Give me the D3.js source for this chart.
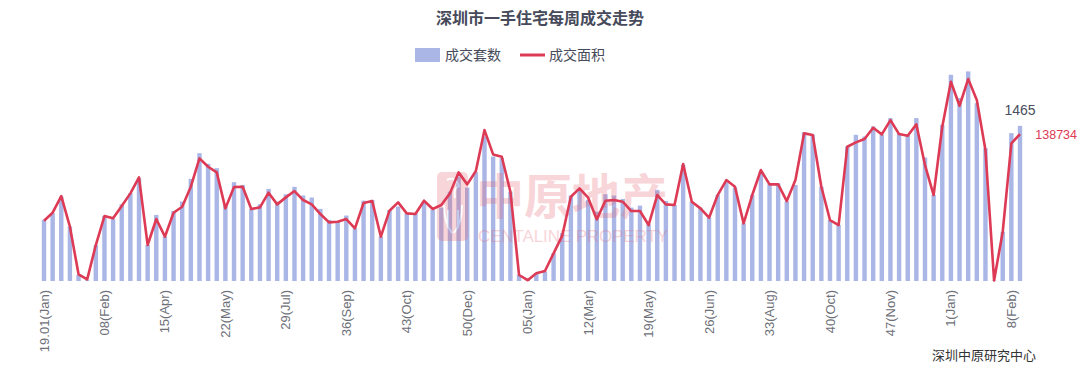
<!DOCTYPE html>
<meta charset="utf-8">
<style>
body { margin: 0; background: #fff; }
svg { display: block; }
.cn { font-family: "Noto Sans CJK SC", "Noto Sans", sans-serif; }
.num { font-family: "Liberation Sans", Arial, sans-serif; }
</style>
<svg width="1080" height="366"></svg>
<script src="https://d3js.org/d3.v7.min.js"></script>
<script>

// weekly categories 2019 W1 .. 2021 W9
var weeks = [
  "19W01","19W02","19W03","19W04","19W05","19W06","19W07","19W08","19W09","19W10",
  "19W11","19W12","19W13","19W14","19W15","19W16","19W17","19W18","19W19","19W20",
  "19W21","19W22","19W23","19W24","19W25","19W26","19W27","19W28","19W29","19W30",
  "19W31","19W32","19W33","19W34","19W35","19W36","19W37","19W38","19W39","19W40",
  "19W41","19W42","19W43","19W44","19W45","19W46","19W47","19W48","19W49","19W50",
  "19W51","19W52",
  "20W01","20W02","20W03","20W04","20W05","20W06","20W07","20W08","20W09","20W10",
  "20W11","20W12","20W13","20W14","20W15","20W16","20W17","20W18","20W19","20W20",
  "20W21","20W22","20W23","20W24","20W25","20W26","20W27","20W28","20W29","20W30",
  "20W31","20W32","20W33","20W34","20W35","20W36","20W37","20W38","20W39","20W40",
  "20W41","20W42","20W43","20W44","20W45","20W46","20W47","20W48","20W49","20W50",
  "20W51","20W52","20W53",
  "21W01","21W02","21W03","21W04","21W05","21W06","21W07","21W08","21W09"
];

// ticks shown on the axis
var tickWeeks  = ["19W01","19W08","19W15","19W22","19W29","19W36","19W43","19W50",
                  "20W05","20W12","20W19","20W26","20W33","20W40","20W47","21W01","21W08"];
var tickLabels = ["19.01(Jan)","08(Feb)","15(Apr)","22(May)","29(Jul)","36(Sep)","43(Oct)","50(Dec)",
                  "05(Jan)","12(Mar)","19(May)","26(Jun)","33(Aug)","40(Oct)","47(Nov)","1(Jan)","8(Feb)"];

// 成交套数 (units)
var units = [
  577,640,797,514,57,8,340,614,586,725,
  829,970,340,624,419,662,750,964,1207,1106,
  1065,718,933,907,681,725,870,750,819,889,
  807,788,681,577,561,618,498,759,766,419,
  671,703,640,640,750,671,693,844,986,882,
  1027,1364,1175,1160,844,57,9,72,88,262,
  451,807,870,766,655,819,807,775,693,712,
  536,860,756,718,1097,750,693,599,813,933,
  882,545,813,1034,914,923,750,907,1405,1380,
  892,577,529,1270,1380,1364,1459,1380,1538,1396,
  1380,1538,1166,813,1475,1947,1727,1979,1679,1254,
  5,466,1396,1465
];

// 成交面积 (m2)
var area = [
  56943,64493,80223,51280,6292,1500,33977,61347,59145,70785,
  82740,97841,33977,58516,41842,64493,70156,89032,115773,107908,
  102560,68583,88717,89032,67954,69527,83369,72358,78965,84942,
  76448,72358,63235,55370,55999,58516,49707,73616,75504,41842,
  66381,74246,63864,63235,75819,67954,71729,82740,102560,91234,
  103818,142514,119548,117346,84313,5663,800,7236,9438,26112,
  42786,79594,87459,78650,58201,75819,76448,74875,66066,66066,
  52853,81167,72358,71729,110425,74875,68583,59774,81167,95324,
  89032,54426,81167,104762,91234,91234,75504,95324,139368,137795,
  89032,57572,52853,126784,130874,134020,144716,138424,151952,138739,
  137166,147862,109481,81167,145660,188131,165480,190648,170828,123638,
  500,46561,129930,138734
];

var svg = d3.select("svg");
var barColor = "#a9b6e6",
    lineColor = "#dd3a55";

var x = d3.scalePoint().domain(weeks).range([44, 1020]);
var yBar = d3.scaleLinear().domain([0, 2200]).range([281, 48]);
var yLine = d3.scaleLinear().domain([0, 220000]).range([281, 48]);

// title
svg.append("text")
    .attr("class", "cn")
    .attr("x", 540).attr("y", 24)
    .attr("text-anchor", "middle")
    .attr("font-size", 16).attr("font-weight", "bold")
    .attr("fill", "#464a5a")
    .text("深圳市一手住宅每周成交走势");

// legend
var legend = svg.append("g").attr("class", "cn");
legend.append("rect")
    .attr("x", 415).attr("y", 48).attr("width", 25).attr("height", 14)
    .attr("fill", barColor);
legend.append("text")
    .attr("x", 445).attr("y", 60)
    .attr("font-size", 14).attr("fill", "#464a5a")
    .text("成交套数");
legend.append("line")
    .attr("x1", 520).attr("x2", 545).attr("y1", 55).attr("y2", 55)
    .attr("stroke", lineColor).attr("stroke-width", 3);
legend.append("text")
    .attr("x", 549).attr("y", 60)
    .attr("font-size", 14).attr("fill", "#464a5a")
    .text("成交面积");

// bars
svg.append("g")
  .selectAll("rect")
  .data(units)
  .enter().append("rect")
    .attr("x", function(d, i) { return x(weeks[i]) - 2.2; })
    .attr("width", 4.4)
    .attr("y", function(d) { return yBar(d); })
    .attr("height", function(d) { return yBar(0) - yBar(d); })
    .attr("fill", barColor);

// watermark
var wm = svg.append("g").attr("opacity", 0.26);
wm.append("rect")
    .attr("x", 437).attr("y", 172).attr("width", 31).attr("height", 69).attr("rx", 5)
    .attr("fill", "#e8606f");
wm.append("path")
    .attr("d", "M447,180 q8,-4 12,6 q-6,2 -4,12 M444,205 q0,18 8,28 M462,205 q0,18 -8,28 M448,210 l0,18 M458,210 l0,18")
    .attr("fill", "none").attr("stroke", "#fff").attr("stroke-width", 2);
wm.append("text")
    .attr("class", "cn")
    .attr("x", 476).attr("y", 214)
    .attr("font-size", 48).attr("font-weight", "bold")
    .attr("fill", "#e8606f")
    .text("中原地产");
wm.append("text")
    .attr("class", "num")
    .attr("x", 478).attr("y", 242)
    .attr("font-size", 17)
    .attr("textLength", 190)
    .attr("fill", "#e8606f")
    .text("CENTALINE PROPERTY");

// line
var line = d3.line()
    .x(function(d, i) { return x(weeks[i]); })
    .y(function(d) { return yLine(d); });

svg.append("path")
    .datum(area)
    .attr("fill", "none")
    .attr("stroke", lineColor)
    .attr("stroke-width", 2.6)
    .attr("stroke-linejoin", "round")
    .attr("d", line);

// end labels
var last = weeks.length - 1;
svg.append("text")
    .attr("class", "num")
    .attr("x", x(weeks[last])).attr("y", yBar(units[last]) - 11)
    .attr("text-anchor", "middle")
    .attr("font-size", 14).attr("fill", "#4a4e5e")
    .text(units[last]);
svg.append("text")
    .attr("class", "num")
    .attr("x", 1077).attr("y", yLine(area[last]) + 5)
    .attr("text-anchor", "end")
    .attr("font-size", 12.5).attr("fill", lineColor)
    .text(area[last]);

// x axis labels
var ticks = svg.append("g").attr("class", "num");
ticks.selectAll("text")
  .data(tickWeeks)
  .enter().append("text")
    .attr("transform", function(d) { return "translate(" + x(d) + ",290) rotate(-90)"; })
    .attr("text-anchor", "end")
    .attr("dy", "0.35em")
    .attr("font-size", 13)
    .attr("fill", "#6e7079")
    .text(function(d, i) { return tickLabels[i]; });

// source
svg.append("text")
    .attr("class", "cn")
    .attr("x", 1036).attr("y", 360)
    .attr("text-anchor", "end")
    .attr("font-size", 13).attr("fill", "#333")
    .text("深圳中原研究中心");

</script>
